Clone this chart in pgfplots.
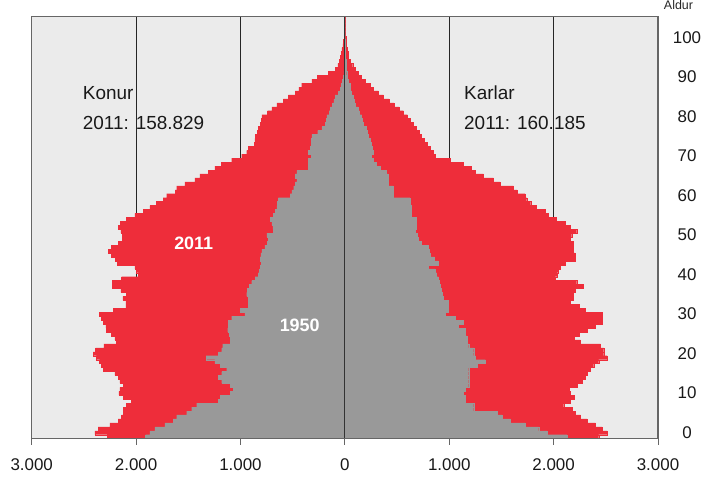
\documentclass[border=0pt]{standalone}
\usepackage{fontspec}
\setmainfont{Liberation Sans}
\usepackage{pgfplots}
\usepackage{pgfplotstable}
\pgfplotsset{compat=1.18}
\definecolor{popred}{HTML}{EE2D3A}
\definecolor{popgray}{HTML}{999999}
\definecolor{bggray}{HTML}{EBEBEB}
\definecolor{framec}{HTML}{666666}
\pgfplotstableread{
age w11 m11 w50 m50
0 2277 2432 1909 2128
1 2395 2512 1867 1937
2 2363 2464 1819 1857
3 2251 2400 1723 1729
4 2171 2320 1644 1585
5 2139 2257 1611 1505
6 2123 2209 1515 1457
7 2123 2177 1467 1234
8 2091 2097 1419 1234
9 2043 2161 1212 1154
10 2123 2193 1196 1154
11 2165 2161 1100 1138
12 2155 2145 1068 1154
13 2123 2225 1100 1186
14 2155 2272 1180 1186
15 2171 2304 1212 1186
16 2203 2320 1180 1186
17 2314 2352 1132 1186
18 2330 2384 1196 1266
19 2350 2432 1244 1345
20 2380 2512 1330 1250
21 2411 2480 1212 1234
22 2388 2480 1180 1234
23 2308 2448 1170 1186
24 2187 2257 1100 1170
25 2203 2193 1100 1170
26 2235 2241 1106 1154
27 2282 2320 1122 1154
28 2289 2400 1116 1090
29 2314 2464 1116 1138
30 2330 2464 1084 1058
31 2353 2464 957 962
32 2219 2304 1004 994
33 2097 2241 925 994
34 2097 2161 925 994
35 2126 2190 924 943
36 2091 2190 940 935
37 2145 2205 935 927
38 2229 2285 917 911
39 2229 2221 892 903
40 2139 2014 860 895
41 1979 2030 828 879
42 1995 2046 818 863
43 2011 2062 810 799
44 2181 2110 802 895
45 2200 2205 812 860
46 2235 2205 805 815
47 2267 2190 796 807
48 2240 2190 765 799
49 2171 2190 740 735
50 2133 2158 733 703
51 2133 2173 748 690
52 2145 2221 685 671
53 2171 2158 690 687
54 2150 2110 700 687
55 2091 2029 716 687
56 2011 1950 685 639
57 1931 1918 668 639
58 1867 1837 652 639
59 1803 1780 645 630
60 1740 1742 637 623
61 1707 1726 525 463
62 1627 1650 508 463
63 1611 1614 490 463
64 1532 1486 477 415
65 1436 1422 460 415
66 1388 1326 477 415
67 1308 1250 460 400
68 1244 1214 349 335
69 1186 1134 349 300
70 1084 1007 349 272
71 988 863 323 255
72 940 847 349 272
73 924 815 333 265
74 867 790 323 256
75 863 760 320 240
76 860 735 317 224
77 840 710 260 215
78 828 680 221 208
79 812 658 189 176
80 800 630 180 165
81 796 600 173 160
82 740 560 150 140
83 700 520 141 128
84 652 470 119 96
85 589 425 105 90
86 541 368 93 80
87 477 320 60 64
88 440 272 45 52
89 413 240 35 48
90 317 192 25 32
91 263 160 13 25
92 157 128 10 18
93 93 96 8 14
94 67 75 6 10
95 55 55 4 8
96 45 35 3 5
97 35 29 2 3
98 29 22 1 2
99 20 16 1 1
100 13 12 1 1
101 8 8 0 0
102 6 6 0 0
103 4 4 0 0
104 3 3 0 0
105 2 2 0 0
106 1 1 0 0
}\pop

\begin{document}
\begin{tikzpicture}
\useasboundingbox (0,0) rectangle (707bp,477bp);
\begin{axis}[
  at={(31.7bp,38.3bp)}, anchor=south west,
  scale only axis, width=626.3bp, height=422bp,
  xmin=-3000, xmax=3000, ymin=-0.5, ymax=106.3,
  axis background/.style={fill=bggray},
  axis line style={framec, line width=1.3bp},
  xtick={-3000,-2000,-1000,0,1000,2000,3000},
  xticklabels={3.000,2.000,1.000,0,1.000,2.000,3.000},
  xtick pos=left, tick align=outside,
  major tick length=6bp,
  x tick style={framec, line width=1bp},
  xmajorgrids, grid style={black!85, line width=0.8bp},
  ytick={0,10,20,30,40,50,60,70,80,90,100},
  yticklabels={0,10,20,30,40,50,60,70,80,90,100},
  ytick pos=right, yticklabel pos=right,
  y tick style={draw=none},
  yticklabel style={anchor=center, xshift=23bp, yshift=4.3bp},
  xticklabel style={yshift=-10bp},
  ticklabel style={font=\fontsize{17}{20}\selectfont, text=black!90},
]
\addplot[xbar, bar shift=0pt, bar width=1, fill=popred, draw=popred, line width=0.3bp] table[x expr=-\thisrow{w11}, y=age] {\pop};
\addplot[xbar, bar shift=0pt, bar width=1, fill=popred, draw=popred, line width=0.3bp] table[x=m11, y=age] {\pop};
\addplot[xbar, bar shift=0pt, bar width=1, fill=popgray, draw=popgray, line width=0.3bp] table[x expr=-\thisrow{w50}, y=age] {\pop};
\addplot[xbar, bar shift=0pt, bar width=1, fill=popgray, draw=popgray, line width=0.3bp] table[x=m50, y=age] {\pop};
\draw[black!80, line width=1bp] (axis cs:0,-0.5) -- (axis cs:0,106.3);
\draw[framec, line width=1.3bp] (rel axis cs:0,0) rectangle (rel axis cs:1,1);
\end{axis}
\begin{scope}[font=\fontsize{19}{22}\selectfont, text=black!90]
\node[anchor=base west, inner sep=0pt] at (82.7bp,377bp) {Konur};
\node[anchor=base west, inner sep=0pt] at (82.7bp,347bp) {2011: 158.829};
\node[anchor=base west, inner sep=0pt] at (464bp,377bp) {Karlar};
\node[anchor=base west, inner sep=0pt] at (464bp,347bp) {2011: 160.185};
\end{scope}
\node[anchor=base, inner sep=0pt, text=white, font=\bfseries\fontsize{18}{22}\selectfont] at (193.7bp,227bp) {2011};
\node[anchor=base, inner sep=0pt, text=white, font=\bfseries\fontsize{18}{22}\selectfont] at (299.7bp,145.3bp) {1950};
\node[anchor=base, inner sep=0pt, text=black!85, font=\fontsize{12.5}{14}\selectfont] at (678.5bp,467.7bp) {Aldur};
\end{tikzpicture}
\end{document}
